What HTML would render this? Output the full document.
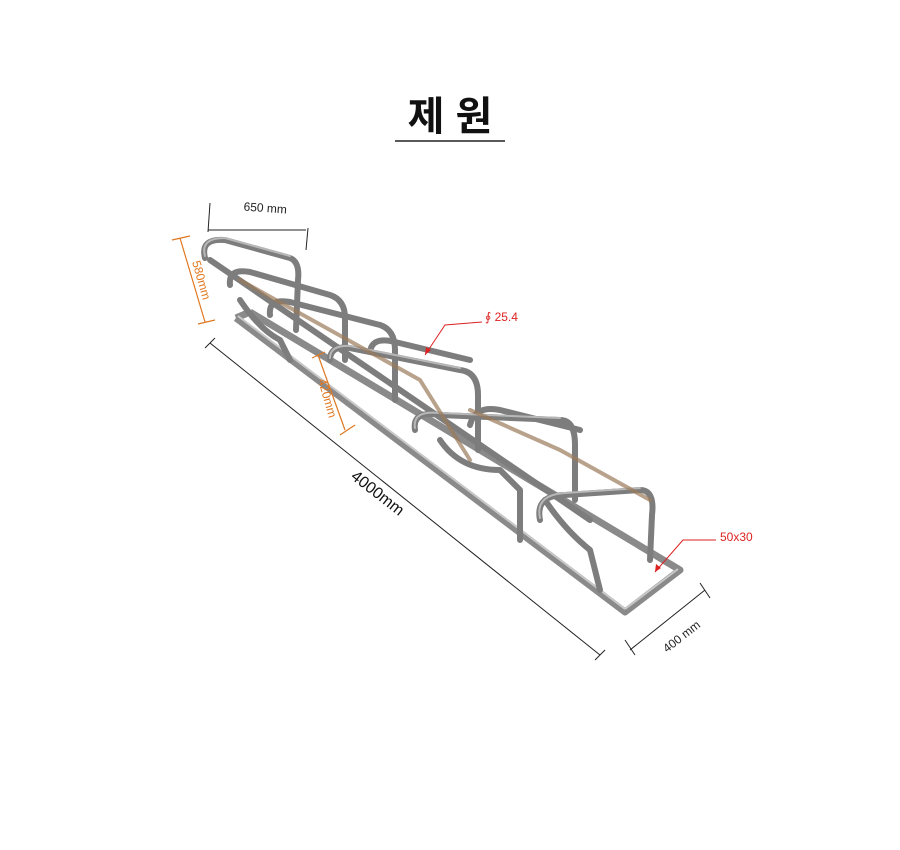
<!DOCTYPE html>
<html><head><meta charset="utf-8"><style>
html,body{margin:0;padding:0;background:#fff;width:900px;height:850px;overflow:hidden}
</style></head><body>
<svg width="900" height="850" viewBox="0 0 900 850" xmlns="http://www.w3.org/2000/svg" font-family="Liberation Sans, sans-serif">
<text x="450" y="130" text-anchor="middle" font-size="40" font-weight="bold" font-family="Liberation Sans, Noto Sans CJK KR, sans-serif" fill="#111">제 원</text>
<line x1="395" y1="141" x2="505" y2="141" stroke="#222" stroke-width="1.5"/>

<g stroke="#8a8a8a" stroke-width="7" fill="none" stroke-linejoin="round">
<polyline points="236,318 625,612 680,570 250,312"/>
<line x1="236" y1="318" x2="250" y2="312"/>
</g>
<g stroke="#c8c8c8" stroke-width="2" fill="none">
<line x1="238" y1="316" x2="625" y2="609"/>
<line x1="625" y1="609" x2="678" y2="569"/>
</g>
<g fill="none" stroke-linecap="round" stroke-linejoin="round">
<g stroke="#7d7d7d" stroke-width="6">
<path d="M205,258 Q200,238 225,240 L290,258 Q300,262 298,280 L296,330"/>
<path d="M230,285 Q228,268 250,272 L330,295 Q345,300 345,318 L345,360"/>
<path d="M270,315 Q268,298 290,302 L380,325 Q395,330 395,350 L395,400"/>
<path d="M330,360 Q330,345 350,348 L460,370 Q478,372 478,395 L478,450"/>
<path d="M370,352 Q372,336 395,342 L470,360"/>
<path d="M415,430 Q412,410 440,415 L560,420 Q575,420 575,445 L575,500"/>
<path d="M470,425 Q475,405 500,410 L580,430"/>
<path d="M540,520 Q535,495 565,495 L640,490 Q655,490 652,515 L650,560"/>
<path d="M545,500 Q565,530 590,550 L600,590"/>
<path d="M440,440 Q460,470 500,470 L520,490 L520,540"/>
<path d="M210,260 L590,520"/>
<path d="M240,300 Q260,330 280,340 L290,360"/>
</g>
<g stroke="#b8b8b8" stroke-width="2">
<path d="M205,256 Q200,238 225,238 L290,256"/>
<path d="M330,358 Q330,345 350,346 L460,368"/>
<path d="M415,428 Q412,410 440,413 L560,418"/>
<path d="M540,518 Q535,495 565,493 L640,488"/>
</g>
<g stroke="#9b7b5b" stroke-width="4" opacity="0.7">
<path d="M240,280 L420,380 L470,460"/>
<path d="M470,410 L560,450 L650,500"/>
</g>
</g>

<g stroke="#222" stroke-width="1" fill="none">
<line x1="208" y1="230" x2="306" y2="230"/>
<line x1="210" y1="203" x2="208" y2="232"/>
<line x1="308" y1="228" x2="306" y2="250"/>
<line x1="210" y1="343" x2="600" y2="655"/>
<line x1="205" y1="348" x2="215" y2="338"/>
<line x1="595" y1="660" x2="605" y2="650"/>
<line x1="630" y1="650" x2="705" y2="590"/>
<line x1="625" y1="640" x2="635" y2="655"/>
<line x1="700" y1="583" x2="710" y2="598"/>
</g>
<g stroke="#e07820" stroke-width="1.2" fill="none">
<line x1="180" y1="238" x2="205" y2="322"/>
<line x1="172" y1="240" x2="190" y2="236"/>
<line x1="198" y1="324" x2="215" y2="320"/>
<line x1="318" y1="355" x2="345" y2="430"/>
<line x1="312" y1="358" x2="325" y2="352"/>
<line x1="340" y1="435" x2="355" y2="425"/>
</g>
<text x="265" y="212" font-size="12" fill="#222" transform="rotate(4 265 212)" text-anchor="middle">650 mm</text>
<text x="0" y="0" font-size="12" fill="#e07820" transform="translate(192,262) rotate(74)">580mm</text>
<text x="0" y="0" font-size="12" fill="#e07820" transform="translate(318,380) rotate(74)">420mm</text>
<text x="0" y="0" font-size="16" fill="#111" transform="translate(350,478) rotate(38)">4000mm</text>
<text x="0" y="0" font-size="12" fill="#222" transform="translate(667,653) rotate(-38)">400 mm</text>

<g stroke="#d22" stroke-width="1" fill="none">
<polyline points="482,322 445,325 425,355"/>
<polyline points="716,540 683,540 655,572"/>
</g>
<path d="M425,355 l1,-8 l5,3 z" fill="#d22"/>
<path d="M655,572 l1,-8 l5,4 z" fill="#d22"/>
<text x="485" y="321" font-size="12" fill="#d22">∮ 25.4</text>
<text x="720" y="541" font-size="12" fill="#d22">50x30</text>
</svg>
</body></html>
